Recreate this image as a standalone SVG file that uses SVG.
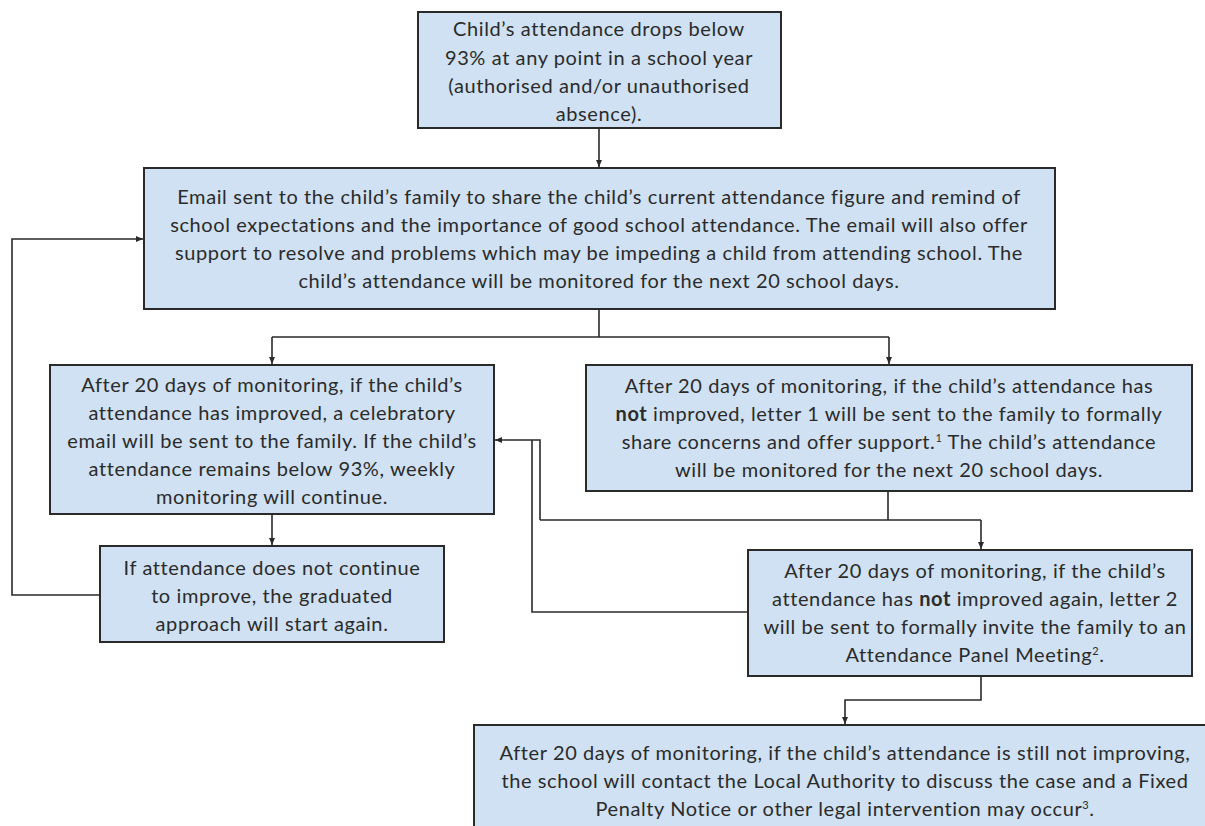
<svg xmlns="http://www.w3.org/2000/svg" width="1205" height="826" viewBox="0 0 1205 826">
<style>
.box{fill:#cfe1f2;stroke:#2a2a2a;stroke-width:2}
.t{font-family:Lato,"Open Sans","Liberation Sans",sans-serif;font-size:20px;letter-spacing:0.6px;fill:#2b2b2b;text-anchor:middle}
.b{font-weight:bold}
.c{fill:none;stroke:#2a2a2a;stroke-width:1.6}
</style>
<defs>
<marker id="ah" markerUnits="userSpaceOnUse" markerWidth="8" markerHeight="8" viewBox="0 0 8 8" refX="7" refY="4" orient="auto">
<path d="M0,1 L7,4 L0,7 z" fill="#2a2a2a"/>
</marker>
</defs>
<rect width="1205" height="826" fill="#ffffff"/>
<g id="connectors">
<path class="c" d="M599,128 V167" marker-end="url(#ah)"/>
<path class="c" d="M599,309 V337 M272,337 H889"/>
<path class="c" d="M272,337 V364" marker-end="url(#ah)"/>
<path class="c" d="M889,337 V364" marker-end="url(#ah)"/>
<path class="c" d="M272,514 V545" marker-end="url(#ah)"/>
<path class="c" d="M100,595 H12 V239 H143" marker-end="url(#ah)"/>
<path class="c" d="M888,491 V520 M540,520 H981"/>
<path class="c" d="M981,520 V549" marker-end="url(#ah)"/>
<path class="c" d="M540,520 V440 H495" marker-end="url(#ah)"/>
<path class="c" d="M748,612 H532 V440"/>
<path class="c" d="M981,676 V700 H845 V724" marker-end="url(#ah)"/>
</g>
<g id="n1">
<rect class="box" x="418" y="12" width="363" height="116"/>
<text class="t" x="599" y="36">Child’s attendance drops below</text>
<text class="t" x="599" y="64.5">93% at any point in a school year</text>
<text class="t" x="599" y="93">(authorised and/or unauthorised</text>
<text class="t" x="599" y="121">absence).</text>
</g>
<g id="n2">
<rect class="box" x="144" y="168" width="911" height="141"/>
<text class="t" x="599" y="204">Email sent to the child’s family to share the child’s current attendance figure and remind of</text>
<text class="t" x="599" y="232">school expectations and the importance of good school attendance. The email will also offer</text>
<text class="t" x="599" y="260">support to resolve and problems which may be impeding a child from attending school. The</text>
<text class="t" x="599" y="288">child’s attendance will be monitored for the next 20 school days.</text>
</g>
<g id="n3">
<rect class="box" x="50" y="365" width="444" height="149"/>
<text class="t" x="272" y="392">After 20 days of monitoring, if the child’s</text>
<text class="t" x="272" y="420">attendance has improved, a celebratory</text>
<text class="t" x="272" y="448">email will be sent to the family. If the child’s</text>
<text class="t" x="272" y="476">attendance remains below 93%, weekly</text>
<text class="t" x="272" y="504">monitoring will continue.</text>
</g>
<g id="n4">
<rect class="box" x="586" y="365" width="606" height="126"/>
<text class="t" x="889" y="393">After 20 days of monitoring, if the child’s attendance has</text>
<text class="t" x="889" y="421"><tspan class="b">not</tspan> improved, letter 1 will be sent to the family to formally</text>
<text class="t" x="889" y="449">share concerns and offer support.<tspan font-size="11" dy="-7">1</tspan><tspan dy="7"> The child’s attendance</tspan></text>
<text class="t" x="889" y="477">will be monitored for the next 20 school days.</text>
</g>
<g id="n5">
<rect class="box" x="100" y="546" width="344" height="96"/>
<text class="t" x="272" y="575">If attendance does not continue</text>
<text class="t" x="272" y="603">to improve, the graduated</text>
<text class="t" x="272" y="631">approach will start again.</text>
</g>
<g id="n6">
<rect class="box" x="748" y="550" width="444" height="126"/>
<text class="t" x="975" y="578">After 20 days of monitoring, if the child’s</text>
<text class="t" x="975" y="606">attendance has <tspan class="b">not</tspan> improved again, letter 2</text>
<text class="t" x="975" y="634">will be sent to formally invite the family to an</text>
<text class="t" x="975" y="662">Attendance Panel Meeting<tspan font-size="11" dy="-7">2</tspan><tspan dy="7">.</tspan></text>
</g>
<g id="n7">
<rect class="box" x="474" y="725" width="740" height="110"/>
<text class="t" x="845" y="760">After 20 days of monitoring, if the child’s attendance is still not improving,</text>
<text class="t" x="845" y="788">the school will contact the Local Authority to discuss the case and a Fixed</text>
<text class="t" x="845" y="816">Penalty Notice or other legal intervention may occur<tspan font-size="11" dy="-7">3</tspan><tspan dy="7">.</tspan></text>
</g>
</svg>
